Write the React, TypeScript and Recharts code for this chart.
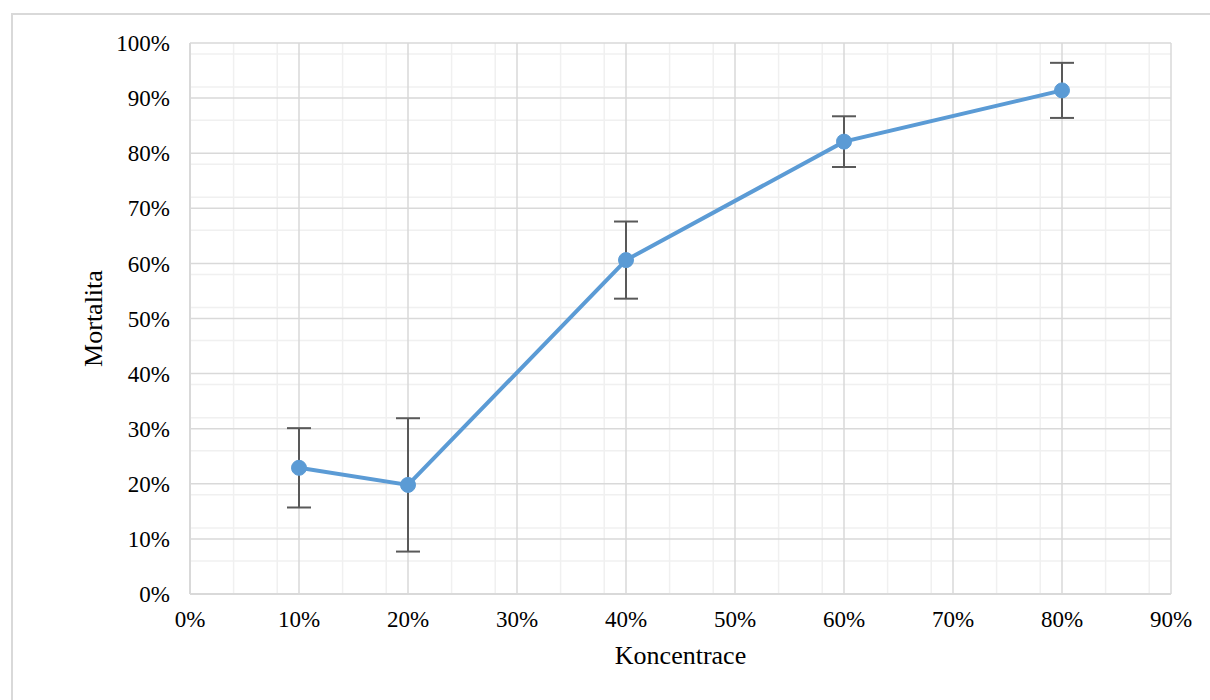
import React from "react";
import {
  LineChart,
  Line,
  XAxis,
  YAxis,
  CartesianGrid,
  ErrorBar,
} from "recharts";

const concentrations = [0.1, 0.2, 0.4, 0.6, 0.8];
const mortality = [0.229, 0.198, 0.606, 0.821, 0.914];
const errors = [0.072, 0.121, 0.07, 0.046, 0.05];

const xTicks = [0, 0.1, 0.2, 0.3, 0.4, 0.5, 0.6, 0.7, 0.8, 0.9];
const yTicks = [0, 0.1, 0.2, 0.3, 0.4, 0.5, 0.6, 0.7, 0.8, 0.9, 1];
const xMinor = [
  0.02, 0.04, 0.06, 0.08, 0.12, 0.14, 0.16, 0.18, 0.22, 0.24, 0.26, 0.28,
  0.32, 0.34, 0.36, 0.38, 0.42, 0.44, 0.46, 0.48, 0.52, 0.54, 0.56, 0.58,
  0.62, 0.64, 0.66, 0.68, 0.72, 0.74, 0.76, 0.78, 0.82, 0.84, 0.86, 0.88,
];
const yMinor = [
  0.02, 0.04, 0.06, 0.08, 0.12, 0.14, 0.16, 0.18, 0.22, 0.24, 0.26, 0.28,
  0.32, 0.34, 0.36, 0.38, 0.42, 0.44, 0.46, 0.48, 0.52, 0.54, 0.56, 0.58,
  0.62, 0.64, 0.66, 0.68, 0.72, 0.74, 0.76, 0.78, 0.82, 0.84, 0.86, 0.88,
  0.92, 0.94, 0.96, 0.98,
];

const data = concentrations.map((x, i) => ({
  x,
  y: mortality[i],
  err: errors[i],
}));

const pct = (v: number) => `${Math.round(v * 100)}%`;
const font = "'Liberation Serif', 'Times New Roman', serif";

export default function App() {
  return (
    <div
      style={{
        position: "absolute",
        left: 0,
        top: 0,
        width: 1210,
        height: 700,
        overflow: "hidden",
        background: "#fff",
        fontFamily: font,
      }}
    >
      <div
        style={{
          position: "absolute",
          left: 11,
          top: 13,
          width: 1220,
          height: 720,
          border: "2px solid #d9d9d9",
          boxSizing: "border-box",
        }}
      />
      <div style={{ position: "absolute", left: 0, top: 0 }}>
        <LineChart
          width={1210}
          height={700}
          data={data}
          margin={{ top: 43, right: 39, left: 110, bottom: 66 }}
        >
          <CartesianGrid
            stroke="#f0f0f0"
            strokeWidth={1.5}
            horizontalValues={yMinor}
            verticalValues={xMinor}
          />
          <CartesianGrid
            stroke="#d9d9d9"
            strokeWidth={1.5}
            horizontalValues={yTicks}
            verticalValues={xTicks}
          />
          <XAxis
            dataKey="x"
            type="number"
            domain={[0, 0.9]}
            ticks={xTicks}
            tickFormatter={pct}
            height={40}
            tickLine={false}
            tickSize={0}
            tickMargin={17}
            axisLine={{ stroke: "#d9d9d9", strokeWidth: 2 }}
            tick={{ fill: "#000", fontSize: 23, fontFamily: font }}
            label={{
              value: "Koncentrace",
              position: "bottom",
              offset: 12,
              fill: "#000",
              fontSize: 26,
              fontFamily: font,
            }}
          />
          <YAxis
            type="number"
            domain={[0, 1]}
            ticks={yTicks}
            tickFormatter={pct}
            width={80}
            tickLine={false}
            tickSize={0}
            tickMargin={20}
            axisLine={{ stroke: "#d9d9d9", strokeWidth: 2 }}
            tick={{ fill: "#000", fontSize: 23, fontFamily: font }}
            label={{
              value: "Mortalita",
              angle: -90,
              position: "left",
              offset: 17,
              textAnchor: "middle",
              fill: "#000",
              fontSize: 26,
              fontFamily: font,
            }}
          />
          <Line
            type="linear"
            dataKey="y"
            stroke="#5b9bd5"
            strokeWidth={4}
            dot={{ r: 7.5, fill: "#5b9bd5", stroke: "#5b9bd5", strokeWidth: 1 }}
            activeDot={false}
            isAnimationActive={false}
          >
            <ErrorBar
              dataKey="err"
              direction="y"
              width={12}
              stroke="#595959"
              strokeWidth={2}
              isAnimationActive={false}
            />
          </Line>
        </LineChart>
      </div>
    </div>
  );
}
